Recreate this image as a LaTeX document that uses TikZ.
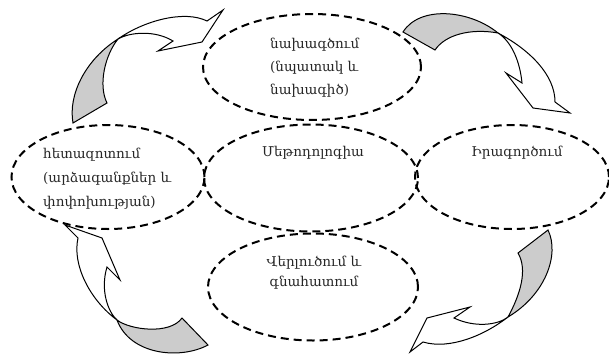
\documentclass[tikz,border=0pt]{standalone}
\usepackage{fontspec}
\setmainfont{DejaVu Serif}
\usetikzlibrary{shapes.geometric}
\definecolor{arrgray}{RGB}{204,204,204}
\tikzset{
  ell/.style={draw, ellipse, dash pattern=on 8pt off 5pt, line width=2pt, inner sep=0pt},
  ribbon/.style={draw, line width=1pt, line join=miter},
  back/.style={ribbon, fill=arrgray},
  front/.style={ribbon, fill=white},
  txt/.style={font=\fontsize{13.5pt}{23pt}\selectfont, inner sep=0pt, text=black!85},
}
\begin{document}
\begin{tikzpicture}[x=1pt,y=-1pt]
\useasboundingbox (0,0) rectangle (609,356);
% arrow 1 (top-left)
\draw[back] (73,123) .. controls (68,95) and (85,60) .. (118,39) .. controls (105,55) and (98,85) .. (107,103) -- cycle;
\draw[front] (118,39) .. controls (145,20) and (185,10) .. (207,21) -- (223,10) -- (202,42) -- (158,51) -- (173,41) .. controls (155,30) and (130,32) .. (118,39) -- cycle;
% arrow 2 (top-right)
\draw[back] (403,32) .. controls (420,5) and (470,10) .. (498,33) .. controls (470,28) and (445,35) .. (435,50) -- cycle;
\draw[front] (498,33) .. controls (530,50) and (555,75) .. (555,102) -- (570,113) -- (533,108) -- (506,73) -- (522,83) .. controls (520,62) and (512,42) .. (498,33) -- cycle;
% arrow 3 (bottom-right)
\draw[back] (548,230) .. controls (560,255) and (545,295) .. (508,317) .. controls (520,295) and (528,270) .. (518,253) -- cycle;
\draw[front] (508,317) .. controls (485,335) and (450,350) .. (423,342) -- (410,352) -- (427,318) -- (470,307) -- (454,318) .. controls (475,328) and (498,325) .. (508,317) -- cycle;
% arrow 4 (bottom-left)
\draw[back] (208,345) .. controls (180,360) and (130,355) .. (117,320) .. controls (130,330) and (170,335) .. (182,318) -- cycle;
\draw[front] (117,320) .. controls (90,300) and (72,265) .. (78,238) -- (65,225) -- (102,238) -- (120,280) -- (107,267) .. controls (100,290) and (108,312) .. (117,320) -- cycle;
% ellipses
\node[ell, minimum width=218pt, minimum height=106pt] (plan) at (312,67) {};
\node[ell, minimum width=214pt, minimum height=107pt] (meth) at (311,178) {};
\node[ell, minimum width=193pt, minimum height=104pt] (res) at (108,177) {};
\node[ell, minimum width=194pt, minimum height=104pt] (impl) at (512,177) {};
\node[ell, minimum width=210pt, minimum height=107pt] (anal) at (313,287) {};
% texts
\node[txt, align=left, anchor=west] (tplan) at (270,68) {նախագծում\\(նպատակ և\\նախագիծ)};
\node[txt] (tmeth) at (313,153) {Մեթոդոլոգիա};
\node[txt, align=left, anchor=west, font=\fontsize{13.5pt}{24pt}\selectfont] (tres) at (43,179) {հետազոտում\\(արձագանքներ և\\փոփոխության)};
\node[txt] (timpl) at (517,153) {Իրագործում};
\node[txt, align=center, font=\fontsize{13.5pt}{20pt}\selectfont] (tanal) at (314,273) {Վերլուծում և\\գնահատում};
\end{tikzpicture}
\end{document}
